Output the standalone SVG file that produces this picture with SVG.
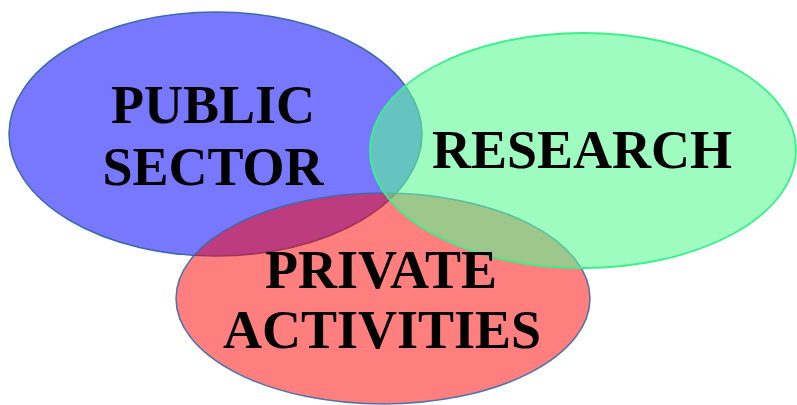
<svg xmlns="http://www.w3.org/2000/svg" width="797" height="405" viewBox="0 0 797 405">
<style>
.lbl{font-family:"Liberation Serif","Times New Roman",serif;font-weight:bold;font-size:54px;fill:#000;text-anchor:middle}
</style>
<rect width="797" height="405" fill="#fff"/>
<g id="public">
<ellipse cx="215.5" cy="134" rx="206.5" ry="122" fill="#7878FF" stroke="#3A6AA8" stroke-width="1.5"/>
</g>
<g id="private">
<ellipse cx="383" cy="298.5" rx="207" ry="105.5" fill="#FF0000" fill-opacity="0.5" stroke="#3A6AA8" stroke-opacity="0.9" stroke-width="1.5"/>
</g>
<g id="research">
<ellipse cx="583" cy="150.5" rx="213" ry="117.5" fill="#59FA93" fill-opacity="0.585" stroke="#3CF08C" stroke-width="1.8"/>
</g>
<g id="labels">
<text class="lbl" x="213" y="123">PUBLIC</text>
<text class="lbl" x="213" y="185">SECTOR</text>
<text class="lbl" x="582" y="168">RESEARCH</text>
<text class="lbl" x="381" y="288">PRIVATE</text>
<text class="lbl" x="382" y="348">ACTIVITIES</text>
</g>
<g id="connectors"/>
</svg>
